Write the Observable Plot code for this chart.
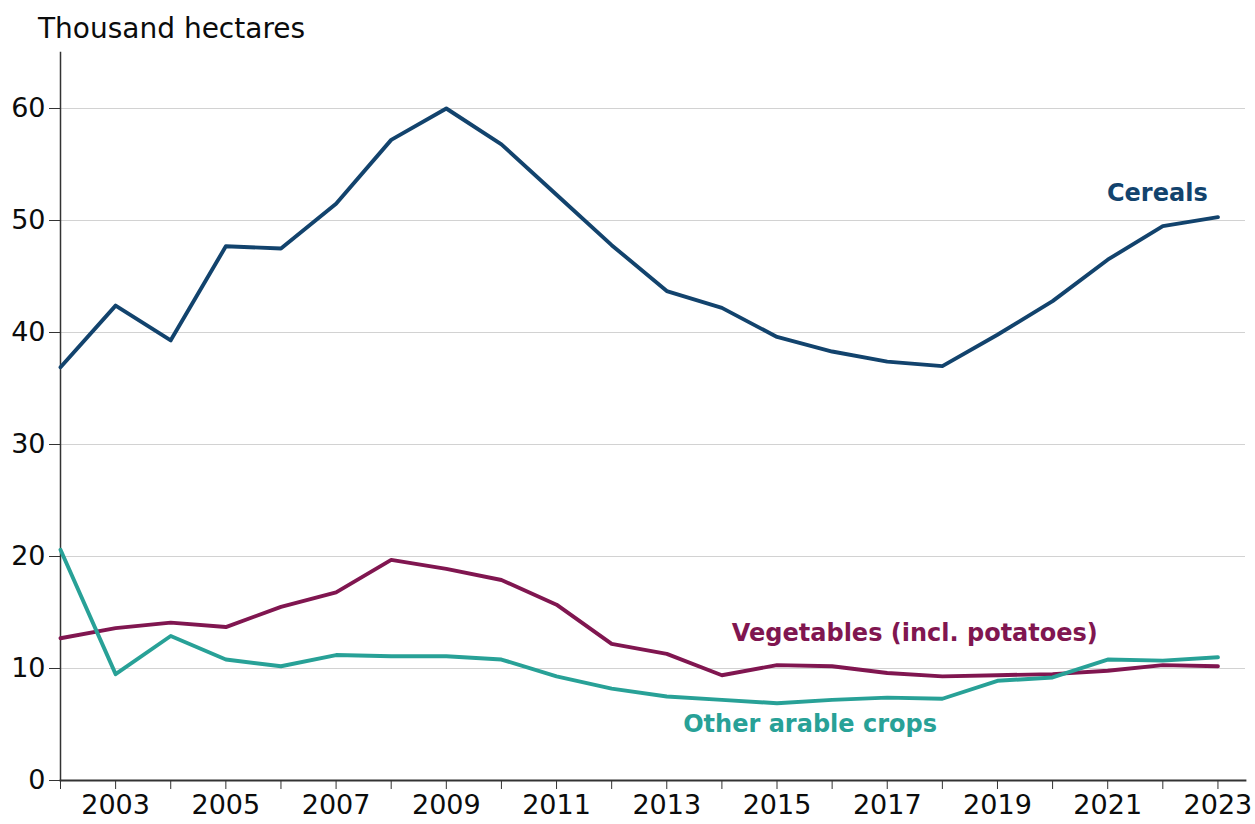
<!DOCTYPE html>
<html>
<head>
<meta charset="utf-8">
<script src="https://cdn.jsdelivr.net/npm/d3@7"></script>
<script src="https://cdn.jsdelivr.net/npm/@observablehq/plot@0.6"></script>
<style>
  body { margin: 0; background: #fff; font-family: "DejaVu Sans", sans-serif; color: #0b0c0c; }
  #title { font-size: 28px; line-height: 1; padding: 15px 0 0 38px; height: 45px; box-sizing: border-box; }
</style>
</head>
<body>
<div id="title">Thousand hectares</div>
<div id="chart"></div>
<script>
const years = [2002,2003,2004,2005,2006,2007,2008,2009,2010,2011,2012,2013,2014,2015,2016,2017,2018,2019,2020,2021,2022,2023];
const cereals = [36.9,42.4,39.3,47.7,47.5,51.5,57.2,60.0,56.8,52.3,47.8,43.7,42.2,39.6,38.3,37.4,37.0,39.8,42.8,46.5,49.5,50.3];
const vegetables = [12.7,13.6,14.1,13.7,15.5,16.8,19.7,18.9,17.9,15.7,12.2,11.3,9.4,10.3,10.2,9.6,9.3,9.4,9.5,9.8,10.3,10.2];
const otherArable = [20.6,9.5,12.9,10.8,10.2,11.2,11.1,11.1,10.8,9.3,8.2,7.5,7.2,6.9,7.2,7.4,7.3,8.9,9.2,10.8,10.7,11.0];
const seriesNames = ["Cereals", "Vegetables (incl. potatoes)", "Other arable crops"];
const seriesColors = ["#12436D", "#801650", "#28A197"];
const yTicks = [0,10,20,30,40,50,60];
const labelYears = [2021.9, 2017.5, 2015.6];
const labelValues = [52.4, 13.1, 5.0];

const rows = [];
[cereals, vegetables, otherArable].forEach((vals, i) => {
  years.forEach((yr, j) => rows.push({series: seriesNames[i], year: yr, value: vals[j]}));
});
const labels = seriesNames.map((s, i) => ({series: s, year: labelYears[i], value: labelValues[i]}));

const chart = Plot.plot({
  width: 1255,
  height: 779,
  marginTop: 7,
  marginBottom: 44,
  marginLeft: 60,
  marginRight: 10,
  style: {fontFamily: "DejaVu Sans, sans-serif", fontSize: "27px", color: "#0b0c0c", background: "#fff"},
  x: {domain: [2002, 2023.5]},
  y: {domain: [0, 65]},
  color: {domain: seriesNames, range: seriesColors},
  marks: [
    Plot.gridY(yTicks.slice(1), {stroke: "#d2d2d2", strokeOpacity: 1, strokeWidth: 1.2}),
    Plot.frame({anchor: "left", stroke: "#333", strokeWidth: 1.5}),
    Plot.frame({anchor: "bottom", stroke: "#333", strokeWidth: 1.8}),
    Plot.axisY({ticks: yTicks, tickSize: 11, tickPadding: 4, label: null, stroke: "#333"}),
    Plot.axisX({ticks: years, tickSize: 9, tickPadding: 5, label: null, stroke: "#333",
      tickFormat: d => (d % 2 ? String(d) : "")}),
    Plot.line(rows, {x: "year", y: "value", z: "series", stroke: "series", strokeWidth: 3.9, strokeLinejoin: "round"}),
    Plot.text(labels, {x: "year", y: "value", text: "series", fill: "series", fontSize: 24, fontWeight: "bold", textAnchor: "middle"})
  ]
});
document.getElementById("chart").appendChild(chart);
</script>
</body>
</html>
